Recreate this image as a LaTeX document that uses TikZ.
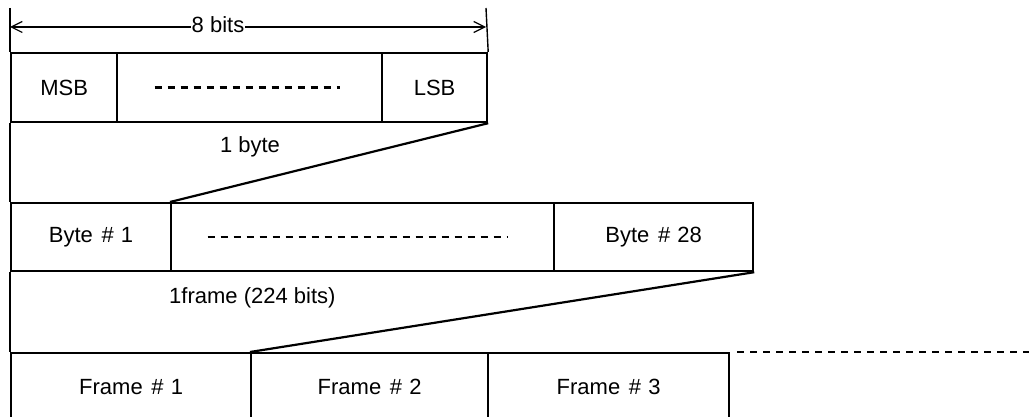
\documentclass[tikz,border=0pt]{standalone}
\usepackage{fontspec}
\setmainfont{Liberation Sans}
\usetikzlibrary{arrows.meta}
\newcommand{\hs}{\hspace{0.12em}\#\hspace{0.32em}}
\begin{document}
\begin{tikzpicture}[x=1pt,y=1pt,
  cell/.style={draw, line width=2.2pt, inner sep=0pt, anchor=north west, font=\fontsize{22}{26}\selectfont},
  lbl/.style={font=\fontsize{22}{26}\selectfont, inner sep=1pt},
  dots/.style={line width=2.6pt, dash pattern=on 7pt off 6pt},
  edge/.style={line width=2.2pt}]
\clip (0,0) rectangle (1029,-417);
\useasboundingbox (0,0) rectangle (1029,-417);
% top row
\node[cell, minimum width=106pt, minimum height=69pt] (msb) at (10,-52) {MSB};
\node[cell, minimum width=265pt, minimum height=69pt] (mid1) at (116,-52) {};
\node[cell, minimum width=105pt, minimum height=69pt] (lsb) at (381,-52) {LSB};
\draw[dots] ([xshift=-95pt]mid1.center) -- ([xshift=90pt]mid1.center);
% dimension
\coordinate (tl) at (10,-8);
\coordinate (tr) at (486,-8);
\draw[line width=1.4pt] (tl) -- (msb.north west);
\draw[line width=1.4pt] (tr) -- (lsb.north east);
\coordinate (al) at (10,-27);
\coordinate (ar) at (486,-27);
\draw[line width=1.2pt, {Straight Barb[length=11pt,width=11pt]}-{Straight Barb[length=11pt,width=11pt]}] (al) -- (ar);
\node[lbl, fill=white, inner sep=1pt] (bits) at (218,-25) {8 bits};
\node[lbl] (byte) at (250,-147) {1 byte};
% middle row
\node[cell, minimum width=160pt, minimum height=68pt] (b1) at (10,-202) {Byte \hs1};
\node[cell, minimum width=383pt, minimum height=68pt] (mid2) at (170,-202) {};
\node[cell, minimum width=199pt, minimum height=68pt] (b28) at (553,-202) {Byte \hs28};
\draw[dots] ([xshift=-155pt]mid2.center) -- ([xshift=145pt]mid2.center);
\draw[edge] (lsb.south east) -- (mid2.north west);
\node[lbl, anchor=west] (frm) at (168,-298) {1frame (224 bits)};
% bottom row
\node[cell, minimum width=240pt, minimum height=80pt] (f1) at (10,-352) {\raisebox{13pt}{Frame \hs1}};
\node[cell, minimum width=237pt, minimum height=80pt] (f2) at (250,-352) {\raisebox{13pt}{Frame \hs2}};
\node[cell, minimum width=241pt, minimum height=80pt] (f3) at (487,-352) {\raisebox{13pt}{Frame \hs3}};
\draw[edge] (b28.south east) -- (f2.north west);
\coordinate (far) at (1029,-352);
\draw[dots] ([xshift=7pt]f3.north east) -- (far);
% left spine
\draw[edge] (msb.south west) -- (b1.north west);
\draw[edge] (b1.south west) -- (f1.north west);
\end{tikzpicture}
\end{document}
